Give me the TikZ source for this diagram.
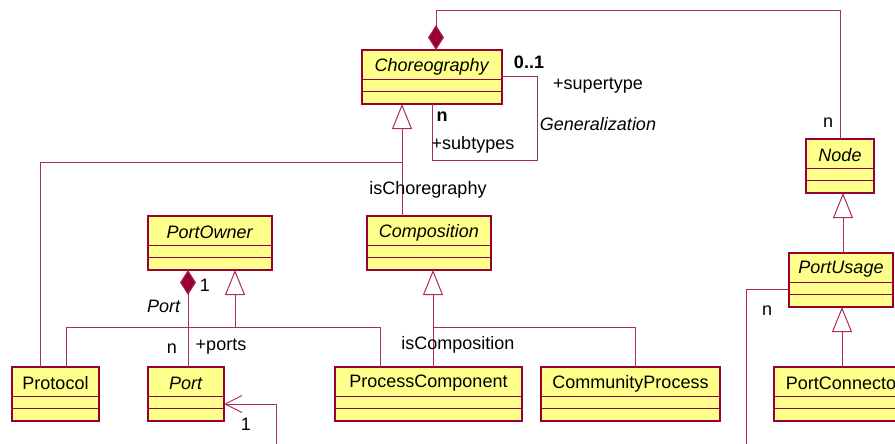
\documentclass[tikz,border=0pt]{standalone}
\usepackage{fontspec}
\setmainfont{Liberation Sans}
\usetikzlibrary{arrows.meta,calc}
\definecolor{umlfill}{RGB}{255,255,140}
\definecolor{umlborder}{RGB}{153,0,51}
\definecolor{umlline}{RGB}{170,45,90}
\newcommand{\umlfont}{\fontsize{18}{21}\selectfont}
\tikzset{
  classbox/.style={draw=umlborder, fill=umlfill, line width=1.3pt,
    minimum height=54pt, inner sep=0pt, outer sep=0pt},
  classsep/.style={umlborder, line width=0.9pt},
  classname/.style={inner sep=0pt, font=\umlfont},
  rolelabel/.style={inner sep=0pt, font=\umlfont},
  assoc/.style={umlline, line width=1pt},
  inherit/.style={assoc, -{Triangle[open, length=25pt, width=20pt, fill=white]}},
  owns/.style={assoc, -{Diamond[length=25pt, width=16pt, fill=umlborder]}},
  navig/.style={assoc, -{Straight Barb[length=17pt, width=17pt]}},
}
% class box: name, left, top, width, title
\newcommand{\umlclass}[5]{%
  \node[classbox, minimum width=#4pt] (#1) at (#2+#4/2,#3+27) {};
  \draw[classsep] ([yshift=-29pt]#1.north west) -- ([yshift=-29pt]#1.north east);
  \draw[classsep] ([yshift=-41pt]#1.north west) -- ([yshift=-41pt]#1.north east);
  \node[classname] (#1-title) at ([yshift=-16.5pt]#1.north) {#5};
}

\begin{document}
\begin{tikzpicture}[x=1pt, y=-1pt]
    \useasboundingbox (0,0) rectangle (895,444);
    \clip (0,0) rectangle (895,444);
    % classes
    \umlclass{choreo}{362}{50}{140}{\textit{Choreography}}
    \umlclass{portowner}{148}{216}{124}{\textit{PortOwner}}
    \umlclass{comp}{367}{216}{124}{\textit{Composition}}
    \umlclass{nodeC}{806}{139}{68}{\textit{Node}}
    \umlclass{pu}{789}{253}{104}{\textit{PortUsage}}
    \umlclass{protocol}{12}{367}{87}{Protocol}
    \umlclass{port}{148}{367}{76}{\textit{Port}}
    \umlclass{pc}{335}{367}{187}{ProcessComponent}
    \umlclass{cp}{541}{367}{179}{CommunityProcess}
    \umlclass{pconn}{774}{367}{140}{PortConnector}
    % loose ends leaving the picture
    \coordinate (portlink) at (276,450);
    \coordinate (pulink) at (746,450);
    % Choreography owns Node
    \draw[owns] (nodeC.north) -- ++(0,-128) -| ([xshift=4pt]choreo.north);
    % Generalization self association
    \draw[assoc] (choreo.east) -| ++(35,83) -| (choreo.south);
    % isChoregraphy
    \draw[inherit] ([xshift=35pt]comp.north west) -- ([xshift=35pt]comp.north west |- choreo.south);
    \draw[assoc] ([xshift=28pt]protocol.north west) |- ([xshift=35pt]comp.north west |- 0,162);
    % PortOwner subclasses
    \draw[inherit] (235,327) -- (235,0 |- portowner.south);
    \draw[assoc] ([xshift=54pt]protocol.north west) |- ([xshift=45pt]pc.north west |- 0,327)
      -- ([xshift=45pt]pc.north west);
    % isComposition
    \draw[inherit] ([xshift=98pt]pc.north west) -- ([xshift=98pt]pc.north west |- comp.south);
    \draw[assoc] ([xshift=98pt]pc.north west |- 0,327) -| ([xshift=5pt]cp.north);
    % ports
    \draw[owns] ([xshift=2pt]port.north) -- ([xshift=2pt]port.north |- portowner.south);
    \draw[navig] (portlink) |- ([yshift=-10pt]port.east);
    % Node hierarchy
    \draw[inherit] ([xshift=2pt]pu.north) -- ([xshift=2pt]pu.north |- nodeC.south);
    \draw[inherit] ([xshift=-2pt]pconn.north) -- ([xshift=-2pt]pconn.north |- pu.south);
    \draw[assoc] ([yshift=-9pt]pu.west) -| (pulink);
    % role labels
    \node[rolelabel, font=\umlfont\bfseries] (supmult) at (529,62) {0..1};
    \node[rolelabel] (suprole) at (598,86) {+supertype};
    \node[rolelabel] (genname) at (598,124) {\textit{Generalization}};
    \node[rolelabel, font=\umlfont\bfseries] (submult) at (442,117) {n};
    \node[rolelabel] (subrole) at (473,145) {+subtypes};
    \node[rolelabel] (isch) at (428,190) {isChoregraphy};
    \node[rolelabel] (nodemult) at (828,123) {n};
    \node[rolelabel] (ownmult) at (205,285) {1};
    \node[rolelabel] (portname) at (164,306) {\textit{Port}};
    \node[rolelabel] (portmult) at (172,349) {n};
    \node[rolelabel] (portrole) at (221,347) {+ports};
    \node[rolelabel] (iscomp) at (458,345) {isComposition};
    \node[rolelabel] (linkmult) at (246,424) {1};
    \node[rolelabel] (pumult) at (767,311) {n};
  \end{tikzpicture}
\end{document}
